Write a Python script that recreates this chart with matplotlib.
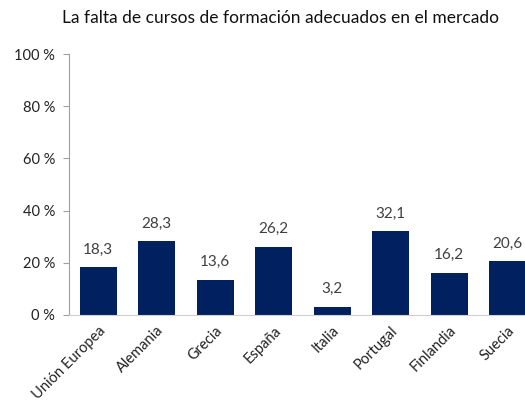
import matplotlib
matplotlib.use("Agg")
import matplotlib.pyplot as plt

categories = ["Unión Europea", "Alemania", "Grecia", "España", "Italia", "Portugal", "Finlandia", "Suecia"]
values = [18.3, 28.3, 13.6, 26.2, 3.2, 32.1, 16.2, 20.6]
yticks = [0, 20, 40, 60, 80, 100]
title = "La falta de cursos de formación adecuados en el mercado"

plt.rcParams['font.family'] = ['Lato', 'DejaVu Sans']

W, H = 525, 405
fig = plt.figure(figsize=(W/100, H/100), dpi=100)
left, right = 69, 537
bottom, top = 315, 54
ax = fig.add_axes([left/W, (H-bottom)/H, (right-left)/W, (bottom-top)/H])

x = list(range(len(categories)))
ax.bar(x, values, width=0.63, color="#002060", zorder=2)
for xi, v in zip(x, values):
    ax.text(xi, v + 4, f"{v:.1f}".replace(".", ","), ha="center", va="bottom",
            fontsize=11, color="#404040")

ax.set_xlim(-0.5, len(categories) - 0.5)
ax.set_ylim(0, 100)
ax.set_yticks(yticks)
ax.set_yticklabels([f"{t} %" for t in yticks], fontsize=10.5, color="#222222")
ax.set_xticks(x)
ax.set_xticklabels(categories, rotation=45, ha="right", rotation_mode="anchor",
                   fontsize=10.5, color="#222222")
ax.tick_params(axis="x", length=0, pad=6)
ax.tick_params(axis="y", length=4, color="#a0a0a0", pad=6)
for s in ["top", "right"]:
    ax.spines[s].set_visible(False)
ax.spines["left"].set_color("#a0a0a0")
ax.spines["bottom"].set_color("#d0d0d0")

fig.text(280/W, 1 - 18/H, title, ha="center", va="center", fontsize=12.5, color="#111111")

fig.savefig("out.png", dpi=100)
